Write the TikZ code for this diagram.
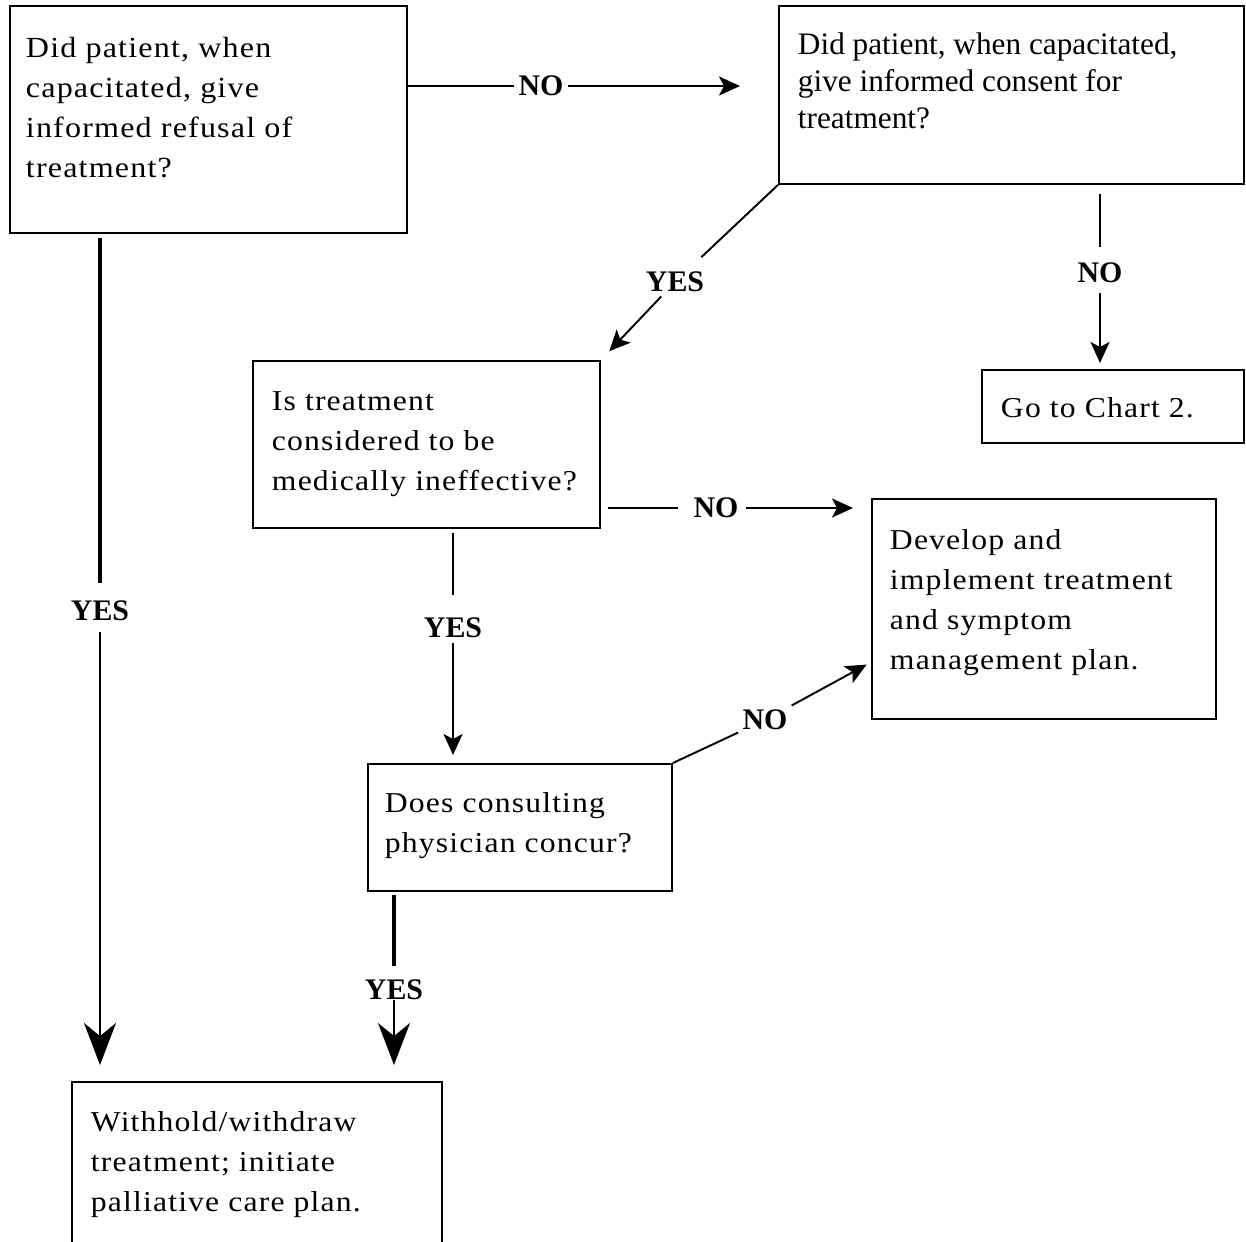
\documentclass[tikz,border=0pt]{standalone}
\usepackage{fontspec}
\setmainfont{Liberation Serif}
\newfontfamily\spacedfont[LetterSpace=4,FakeStretch=1.1]{Liberation Serif}
\usetikzlibrary{arrows.meta,calc}
\newcommand{\boxtext}[3]{\parbox[t][#2][t]{#1}{\begin{tabular}[t]{@{}l@{}}#3\end{tabular}}}

\begin{document}
\begin{tikzpicture}[x=0.02cm, y=-0.02cm, line width=1.1pt,
  box/.style={draw, line width=1.1pt, anchor=north west},
  txt/.style={font=\spacedfont\fontsize{16.4pt}{22.76pt}\selectfont},
  lbl/.style={font=\fontsize{17pt}{20pt}\selectfont\bfseries, inner sep=2pt},
  arr/.style={-{Stealth[length=0.42cm, width=0.38cm, inset=0.1cm]}},
  bigarr/.style={-{Stealth[length=0.84cm, width=0.64cm, inset=0.26cm]}},
  heavy/.style={line width=2pt}]
  \useasboundingbox (0,0) rectangle (1246,1241);
  % boxes
  \node[box, font=\spacedfont\fontsize{16.6pt}{22.76pt}\selectfont, inner xsep=0.32cm, inner ysep=0.48cm] (refuse) at (9,5)
    {\boxtext{7.3cm}{3.58cm}{Did patient, when\\capacitated, give\\informed refusal of\\treatment?}};
  \node[box, font=\fontsize{17.8pt}{21.05pt}\selectfont, inner xsep=0.38cm, inner ysep=0.462cm] (consent) at (778,5)
    {\boxtext{8.54cm}{2.636cm}{Did patient, when capacitated,\\give informed consent for\\treatment?}};
  \node[box, txt, inner xsep=0.38cm, inner ysep=0.44cm] (ineff) at (252,360)
    {\boxtext{6.18cm}{2.46cm}{Is treatment\\considered to be\\medically ineffective?}};
  \node[box, txt, inner xsep=0.38cm, inner ysep=0.40cm] (chart) at (981,369)
    {\boxtext{4.48cm}{0.66cm}{Go to Chart 2.}};
  \node[box, txt, inner xsep=0.36cm, inner ysep=0.46cm] (plan) at (871,498)
    {\boxtext{6.16cm}{3.48cm}{Develop and\\implement treatment\\and symptom\\management plan.}};
  \node[box, txt, inner xsep=0.34cm, inner ysep=0.42cm] (concur) at (367,763)
    {\boxtext{5.40cm}{1.70cm}{Does consulting\\physician concur?}};
  \node[box, txt, inner xsep=0.38cm, inner ysep=0.44cm] (withhold) at (71,1081)
    {\boxtext{6.64cm}{3.12cm}{Withhold/withdraw\\treatment; initiate\\palliative care plan.}};

  % refusal -> consent
  \node[lbl] (no1) at (541,86) {NO};
  \draw (refuse.east |- no1) -- (no1);
  \draw[arr, shorten >=0.76cm] (no1) -- (consent.west |- no1);
  % refusal -> withhold
  \node[lbl] (yes1) at (100,611) {YES};
  \draw[heavy, shorten <=0.08cm, shorten >=0.27cm] (yes1 |- refuse.south) -- (yes1);
  \draw[bigarr, shorten <=0.12cm, shorten >=0.32cm] (yes1) -- (yes1 |- withhold.north);
  % consent -> ineffective
  \node[lbl] (yes2) at (675,282) {YES};
  \draw[shorten >=0.3cm] (consent.south west) -- (yes2);
  \draw[arr, shorten >=0.24cm] (yes2) -- (ineff.north east);
  % consent -> chart 2
  \node[lbl] (no2) at (1100,273) {NO};
  \draw[shorten <=0.18cm, shorten >=0.23cm] (no2 |- consent.south) -- (no2);
  \draw[arr, shorten <=0.11cm, shorten >=0.12cm] (no2) -- (no2 |- chart.north);
  % ineffective -> plan
  \node[lbl] (no3) at (716,508) {NO};
  \draw[shorten <=0.14cm, shorten >=0.23cm] (ineff.east |- no3) -- (no3);
  \draw[arr, shorten <=0.07cm, shorten >=0.36cm] (no3) -- (plan.west |- no3);
  % ineffective -> concur
  \node[lbl] (yes3) at (453,628) {YES};
  \draw[shorten <=0.08cm, shorten >=0.38cm] (yes3 |- ineff.south) -- (yes3);
  \draw[arr, shorten >=0.16cm] (yes3) -- (yes3 |- concur.north);
  % concur -> plan
  \node[lbl] (no4) at (765,720) {NO};
  \draw (concur.north east) -- (no4);
  \draw[arr, shorten >=0.1cm] (no4) -- ($(plan.south west)!0.26!(plan.north west)$);
  % concur -> withhold
  \node[lbl] (yes4) at (394,990) {YES};
  \draw[heavy, shorten <=0.06cm, shorten >=0.2cm] (yes4 |- concur.south) -- (yes4);
  \draw[bigarr, shorten <=-0.1cm, shorten >=0.32cm] (yes4) -- (yes4 |- withhold.north);
\end{tikzpicture}
\end{document}
